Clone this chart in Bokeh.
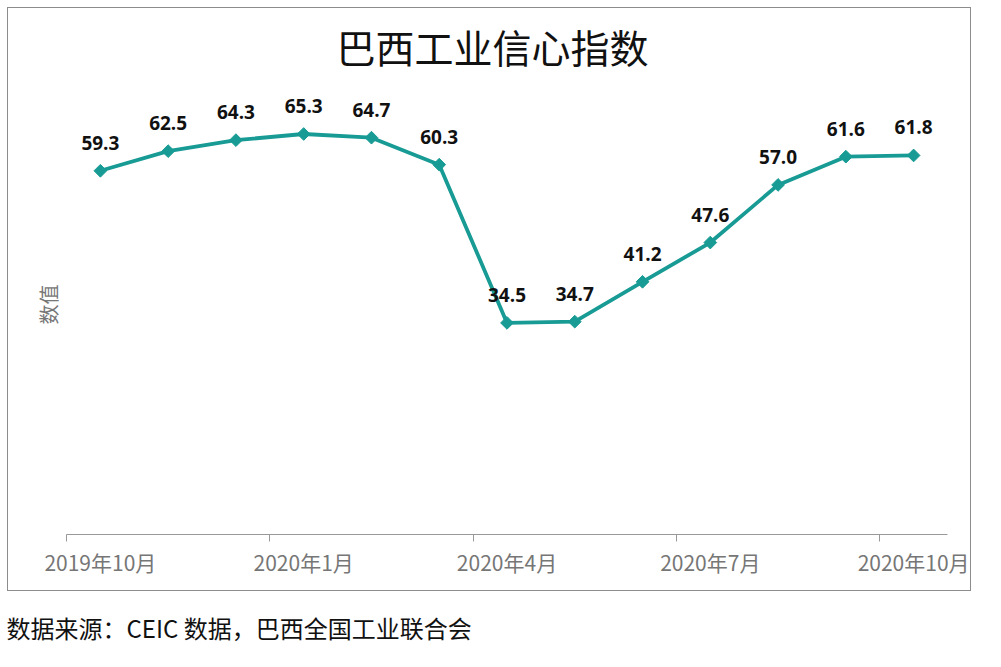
from bokeh.plotting import figure
from bokeh.models import ColumnDataSource, Range1d, FixedTicker, Title, LabelSet
from bokeh.layouts import column
from bokeh.embed import file_html
from bokeh.resources import INLINE
from bokeh.core.properties import value
import numpy as np

# ---- data ----
months = ["2019年10月", "2019年11月", "2019年12月", "2020年1月", "2020年2月", "2020年3月",
          "2020年4月", "2020年5月", "2020年6月", "2020年7月", "2020年8月", "2020年9月", "2020年10月"]
index_values = [59.3, 62.5, 64.3, 65.3, 64.7, 60.3, 34.5, 34.7, 41.2, 47.6, 57.0, 61.6, 61.8]
tick_months = ["2019年10月", "2020年1月", "2020年4月", "2020年7月", "2020年10月"]

title_text = "巴西工业信心指数"
y_label = "数值"
source_text = "数据来源：CEIC 数据，巴西全国工业联合会"

TEAL = "#189B95"
GRAY_TXT = "#767676"
CJK = "Noto Sans CJK SC"

pos = np.arange(len(months)) + 0.5
src = ColumnDataSource(dict(x=pos, y=index_values,
                            lbl=[f"{v:.1f}" for v in index_values]))

p = figure(width=964, height=584, output_backend="svg", toolbar_location=None,
           x_range=Range1d(0, len(months)), y_range=Range1d(0, 75),
           min_border_left=58, min_border_right=25, min_border_top=66, min_border_bottom=58)
p.styles = {"border": "1px solid #8c8c8c"}
p.outline_line_color = None
p.xgrid.visible = False
p.ygrid.visible = False

p.line("x", "y", source=src, line_color=TEAL, line_width=3.8)
p.scatter("x", "y", source=src, marker="square", angle=np.pi / 4, size=9,
          fill_color=TEAL, line_color=TEAL)
labels = LabelSet(x="x", y="y", text="lbl", source=src, y_offset=21, text_align="center",
                  text_baseline="bottom", text_font=value("Open Sans"), text_font_style="bold",
                  text_font_size="19px", text_color="#111111")
p.add_layout(labels)

# x axis: labels centered on months, tick marks at quarter boundaries
label_pos = [float(pos[months.index(m)]) for m in tick_months]
boundaries = [float(pos[months.index(m)] - 0.5) for m in tick_months]
xa = p.xaxis[0]
xa.ticker = FixedTicker(ticks=label_pos, minor_ticks=boundaries)
xa.major_label_overrides = {lp: m for lp, m in zip(label_pos, tick_months)}
xa.major_tick_line_color = None
xa.major_tick_out = 0
xa.major_tick_in = 0
xa.minor_tick_line_color = "#999999"
xa.minor_tick_out = 7
xa.minor_tick_in = 0
xa.axis_line_color = "#999999"
xa.axis_line_width = 1.2
xa.major_label_text_font = CJK
xa.major_label_text_font_size = "21px"
xa.major_label_text_color = GRAY_TXT
xa.major_label_standoff = 5

ya = p.yaxis[0]
ya.ticker = FixedTicker(ticks=[])
ya.axis_line_color = None
ya.major_tick_line_color = None
ya.minor_tick_line_color = None
ya.major_tick_out = 0
ya.major_label_standoff = 0
ya.axis_label = y_label
ya.axis_label_text_font = CJK
ya.axis_label_text_font_size = "20px"
ya.axis_label_text_font_style = "normal"
ya.axis_label_text_color = GRAY_TXT
ya.axis_label_standoff = 4

t = Title(text=title_text, align="left", offset=270, text_font=CJK, standoff=2,
          text_font_size="39px", text_font_style="normal", text_color="#111111")
p.add_layout(t, "above")

# source note: separate strip below the bordered chart
p2 = figure(width=966, height=64, output_backend="svg", toolbar_location=None,
            x_range=Range1d(0, 1), y_range=Range1d(0, 1),
            x_axis_location=None, y_axis_location=None,
            min_border=0, min_border_top=54)
p2.grid.visible = False
p2.outline_line_color = None
p2.add_layout(Title(text=source_text, align="left", offset=-59, standoff=0,
                    vertical_align="middle", text_font=CJK, text_font_size="24px",
                    text_font_style="normal", text_color="#111111"), "above")

layout = column(p, p2)
layout.styles = {"margin-left": "7px", "margin-top": "7px"}
open("out.html", "w").write(file_html(layout, INLINE))
